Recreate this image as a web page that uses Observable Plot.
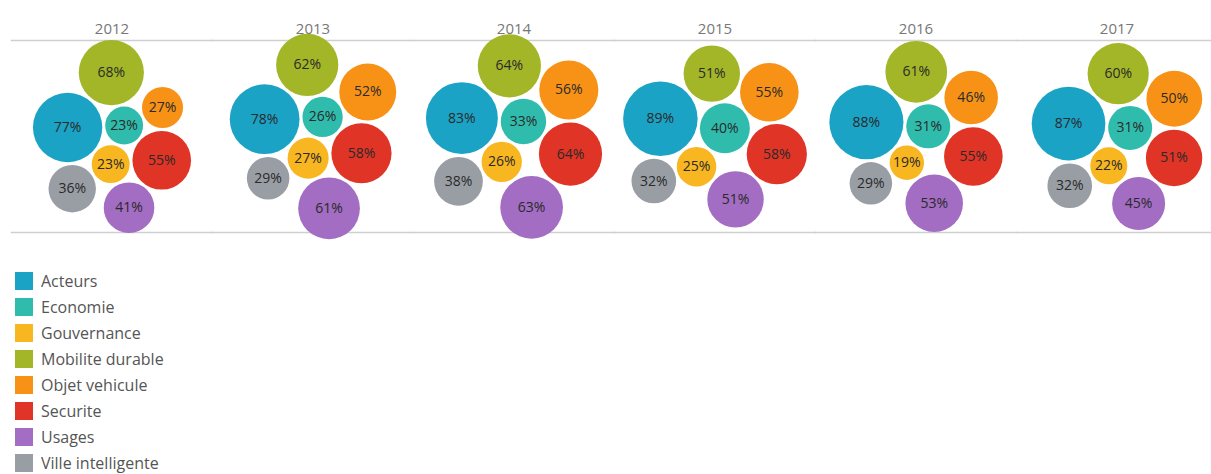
<!DOCTYPE html>
<html>
<head>
<meta charset="utf-8">
<script src="https://cdn.jsdelivr.net/npm/d3@7"></script>
<script src="https://cdn.jsdelivr.net/npm/@observablehq/plot@0.6"></script>
<style>
  html, body { margin: 0; padding: 0; background: #fff; overflow: hidden; }
  body { font-family: "Open Sans", "Noto Sans", sans-serif; }
  #chart svg { display: block; }
  #legend { padding-left: 15px; margin-top: 31px; }
  .lg-swatch { margin-bottom: 5px !important; line-height: 20px; height: 20px; }
  .lg-swatches { color: #555; }
</style>
</head>
<body>
<div id="chart"></div>
<div id="legend"></div>
<script>
// ---- data ----
const years = ["2012", "2013", "2014", "2015", "2016", "2017"];
const categories = ["Acteurs", "Economie", "Gouvernance", "Mobilite durable", "Objet vehicule", "Securite", "Usages", "Ville intelligente"];
const v2012 = [77, 23, 23, 68, 27, 55, 41, 36];
const v2013 = [78, 26, 27, 62, 52, 58, 61, 29];
const v2014 = [83, 33, 26, 64, 56, 64, 63, 38];
const v2015 = [89, 40, 25, 51, 55, 58, 51, 32];
const v2016 = [88, 31, 19, 61, 46, 55, 53, 29];
const v2017 = [87, 31, 22, 60, 50, 51, 45, 32];
const valuesByYear = [v2012, v2013, v2014, v2015, v2016, v2017];

// ---- styles / layout config ----
const colors = ["#1ba3c6", "#30bcad", "#f8b620", "#a2b627", "#f89217", "#e03426", "#a26dc2", "#999ea5"];
// packing seed: direction (deg, screen coords) and relative distance per category
const seedAngle = [193, -37, 95, 272, 328, 23, 74, 128];
const seedDist  = [55, 15, 25, 55, 55, 55, 60, 60];

const W = 1211, H = 240, mL = 10, mR = -6, mT = 40, mB = 8;
const facetW = (W - mL - mR) / years.length;
const plotH = H - mT - mB;
const rScaleOpts = {type: "sqrt", domain: [0, 100], range: [0, 39.5]};
const rs = Plot.scale({r: rScaleOpts});

// ---- pack bubbles per year with a force simulation ----
const nodes = [];
years.forEach((year, yi) => {
  const ns = categories.map((cat, ci) => {
    const a = seedAngle[ci] * Math.PI / 180;
    return {year, cat, value: valuesByYear[yi][ci], r: rs.apply(valuesByYear[yi][ci]),
            x: seedDist[ci] * Math.cos(a), y: seedDist[ci] * Math.sin(a)};
  });
  const sim = d3.forceSimulation(ns)
    .force("x", d3.forceX(0).strength(0.05))
    .force("y", d3.forceY(0).strength(0.05))
    .force("collide", d3.forceCollide(d => d.r + 1.5).strength(1).iterations(4))
    .stop();
  for (let i = 0; i < 400; i++) sim.tick();
  const x0 = d3.min(ns, d => d.x - d.r), x1 = d3.max(ns, d => d.x + d.r);
  const y0 = d3.min(ns, d => d.y - d.r), y1 = d3.max(ns, d => d.y + d.r);
  const cx = (x0 + x1) / 2, cy = (y0 + y1) / 2;
  ns.forEach(d => { d.x -= cx; d.y -= cy; nodes.push(d); });
});

const font = "'Open Sans', 'Noto Sans', sans-serif";

const chart = Plot.plot({
  width: W, height: H,
  marginLeft: mL, marginRight: mR, marginTop: mT, marginBottom: mB,
  style: {fontFamily: font, background: "transparent"},
  fx: {domain: years, padding: 0, label: null},
  x: {domain: [-facetW / 2, facetW / 2], axis: null},
  y: {domain: [plotH / 2, -plotH / 2], axis: null},
  r: rScaleOpts,
  color: {domain: categories, range: colors},
  marks: [
    Plot.axisFx({anchor: "top", tickSize: 0, tickPadding: 7, fontSize: 15, color: "#777", label: null}),
    Plot.frame({anchor: "top", stroke: "#cfcfcf", strokeWidth: 1.5}),
    Plot.frame({anchor: "bottom", stroke: "#cfcfcf", strokeWidth: 1.5}),
    Plot.dot(nodes, {fx: "year", x: "x", y: "y", r: "value", fill: "cat", fillOpacity: 1, stroke: null}),
    Plot.text(nodes, {fx: "year", x: "x", y: "y", text: d => d.value + "%", fill: "#2a2a2a", fontSize: 14})
  ]
});
document.getElementById("chart").appendChild(chart);

const legend = Plot.legend({
  color: {domain: categories, range: colors},
  legend: "swatches",
  columns: 1,
  swatchSize: 18,
  className: "lg",
  style: {fontFamily: font, fontSize: "16px", color: "#555"}
});
document.getElementById("legend").appendChild(legend);
</script>
</body>
</html>
